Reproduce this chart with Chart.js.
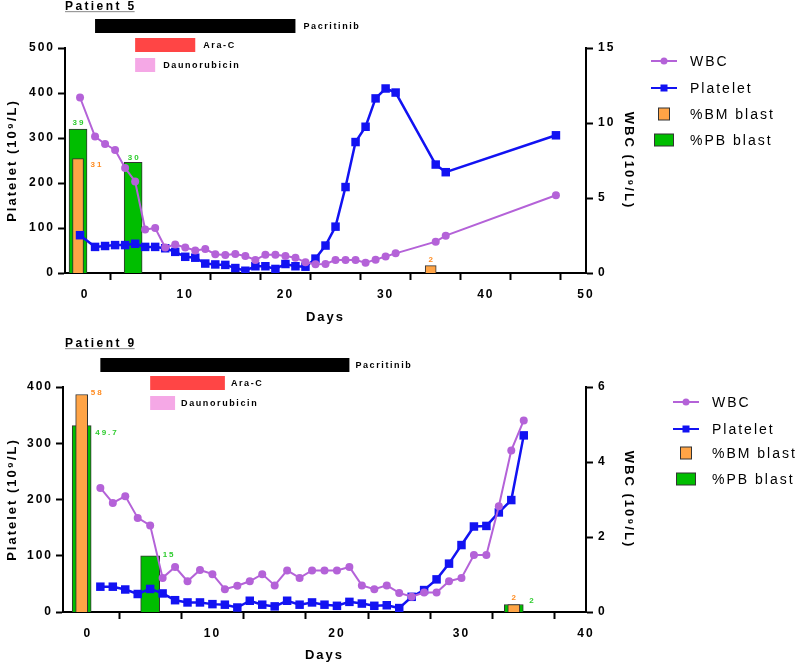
<!DOCTYPE html>
<html>
<head>
<meta charset="utf-8">
<script src="https://cdn.jsdelivr.net/npm/chart.js@4.4.0/dist/chart.umd.min.js"></script>
<style>
  body { margin: 0; background: #fff; }
  .panel { position: relative; width: 800px; }
</style>
</head>
<body>
<div class="panel" style="height:331px"><canvas id="p5"></canvas></div>
<div class="panel" style="height:332px"><canvas id="p9"></canvas></div>
<script>
// ---- Patient 5 ----
const p5Days = [-0.5, 1, 2, 3, 4, 5, 6, 7, 8, 9, 10, 11, 12, 13, 14, 15, 16, 17, 18, 19, 20,
  21, 22, 23, 24, 25, 26, 27, 28, 29, 30, 31, 35, 36, 47];
const p5Platelet = [84, 58, 60, 62, 62, 65, 58, 58, 55, 47, 36, 34, 21, 19, 18, 11, 5, 15, 15, 9, 20,
  15, 14, 32, 61, 103, 191, 291, 325, 388, 410, 401, 241, 224, 306];
const p5Wbc = [11.7, 9.1, 8.6, 8.2, 7.0, 6.1, 2.9, 3.0, 1.7, 1.9, 1.7, 1.5, 1.6, 1.25, 1.2, 1.27, 1.13, 0.87, 1.22, 1.22, 1.13,
  1.02, 0.71, 0.58, 0.6, 0.87, 0.87, 0.87, 0.69, 0.89, 1.1, 1.31, 2.09, 2.49, 5.18];
const p5BmDays = [-0.7, 34.5];
const p5BmBlast = [31, 2];
const p5PbDays = [-0.7, 4.8];
const p5PbBlast = [39, 30];
const p5Drugs = ['Pacritinib', 'Ara-C', 'Daunorubicin'];
const p5DrugStart = [1, 5, 5];
const p5DrugEnd = [21, 11, 7];

// ---- Patient 9 ----
const p9Days = [1, 2, 3, 4, 5, 6, 7, 8, 9, 10, 11, 12, 13, 14, 15, 16, 17, 18, 19, 20,
  21, 22, 23, 24, 25, 26, 27, 28, 29, 30, 31, 32, 33, 34, 35];
const p9Platelet = [45, 45, 40, 32, 41, 33, 21, 17, 17, 14, 13, 8, 20, 13, 10, 20, 13, 17, 13, 11,
  18, 15, 11, 12, 7, 27, 39, 58, 86, 119, 152, 153, 177, 199, 314];
const p9Wbc = [3.31, 2.91, 3.09, 2.51, 2.31, 0.91, 1.2, 0.82, 1.12, 1.01, 0.61, 0.7, 0.82, 1.01, 0.71, 1.11, 0.91, 1.11, 1.11, 1.11,
  1.2, 0.71, 0.61, 0.71, 0.51, 0.41, 0.52, 0.52, 0.82, 0.91, 1.52, 1.52, 2.82, 4.31, 5.11];
const p9BmDays = [-0.5, 34.2];
const p9BmBlast = [58, 2];
const p9PbDays = [-0.5, 5, 34.2];
const p9PbBlast = [49.7, 15, 2];
const p9Drugs = ['Pacritinib', 'Ara-C', 'Daunorubicin'];
const p9DrugStart = [1, 5, 5];
const p9DrugEnd = [21, 11, 7];

const seriesNames = ['WBC', 'Platelet', '%BM blast', '%PB blast'];

// colours
const PURPLE = '#B462D8';
const BLUE = '#1212F2';
const ORANGE = '#FFA446';
const GREEN = '#00BE00';
const ORANGE_TXT = '#FF8A1E';
const GREEN_TXT = '#2ECC2E';
const DRUG_COLORS = ['#000000', '#FF4545', '#F5A8E6'];
const FONT = '"Liberation Sans", Arial, sans-serif';

// where the % labels sit relative to each bar
const p5BmLabelPos = [{side: 'right', dx: 7, dy: 6}, {side: 'top', dx: 0, dy: -6}];
const p5PbLabelPos = [{side: 'top', dx: 0, dy: -6}, {side: 'top', dx: 0, dy: -5}];
const p9BmLabelPos = [{side: 'right', dx: 3, dy: -2}, {side: 'top', dx: 0, dy: -7}];
const p9PbLabelPos = [{side: 'right', dx: 4, dy: 7}, {side: 'right', dx: 3, dy: -1}, {side: 'right', dx: 6, dy: -4}];

function pts(xs, ys) {
  return xs.map((x, i) => ({x: x, y: ys[i]}));
}

function decor(p) {
  return {
    id: 'decor',
    beforeUpdate(chart) { chart.ctx.letterSpacing = '2px'; },
    beforeDraw(chart) { chart.ctx.letterSpacing = '2px'; },
    afterDraw(chart) {
      const ctx = chart.ctx;
      const xs = chart.scales.x;
      ctx.save();

      // panel title, underlined
      ctx.font = 'bold 12px ' + FONT;
      ctx.letterSpacing = '2.4px';
      ctx.fillStyle = '#000';
      ctx.textAlign = 'left';
      ctx.textBaseline = 'alphabetic';
      ctx.fillText(p.title, p.titleX, p.titleBase);
      const tw = ctx.measureText(p.title).width;
      ctx.fillStyle = '#9a9a9a';
      ctx.fillRect(p.titleX, p.titleBase + 1.5, tw - 2, 1.2);

      // treatment bars
      ctx.textBaseline = 'middle';
      ctx.font = 'bold 9px ' + FONT;
      ctx.letterSpacing = '1.6px';
      p.drugs.forEach((d, i) => {
        const x0 = xs.getPixelForValue(p.start[i]);
        const x1 = xs.getPixelForValue(p.end[i]);
        ctx.fillStyle = DRUG_COLORS[i];
        ctx.fillRect(x0, p.rowY[i], x1 - x0, 14);
        ctx.fillStyle = '#000';
        ctx.fillText(d, x1 + p.gap, p.rowY[i] + 8);
      });

      // value labels on blast bars
      ctx.font = 'bold 8px ' + FONT;
      ctx.letterSpacing = '2px';
      chart.data.datasets.forEach((ds, i) => {
        if (!ds.labelPos) return;
        const meta = chart.getDatasetMeta(i);
        meta.data.forEach((bar, j) => {
          const pos = ds.labelPos[j];
          const txt = String(ds.data[j].y);
          ctx.fillStyle = ds.labelColor;
          if (pos.side === 'top') {
            ctx.textAlign = 'center';
            ctx.fillText(txt, bar.x + pos.dx + 1, bar.y + pos.dy);
          } else {
            ctx.textAlign = 'left';
            ctx.fillText(txt, bar.x + bar.width / 2 + pos.dx, bar.y + pos.dy);
          }
        });
      });

      // legend
      const L = p.legend;
      ctx.textAlign = 'left';
      ctx.font = '14px ' + FONT;
      ctx.letterSpacing = '2px';
      chart.data.datasets.forEach((ds, i) => {
        const y = L.ys[i];
        if (ds.type === 'line') {
          ctx.strokeStyle = ds.borderColor;
          ctx.lineWidth = 2;
          ctx.beginPath();
          ctx.moveTo(L.cx - 13, y);
          ctx.lineTo(L.cx + 13, y);
          ctx.stroke();
          ctx.fillStyle = ds.borderColor;
          if (ds.pointStyle === 'rect') {
            ctx.fillRect(L.cx - 3.5, y - 3.5, 7, 7);
          } else {
            ctx.beginPath();
            ctx.arc(L.cx, y, 3.5, 0, Math.PI * 2);
            ctx.fill();
          }
        } else {
          const w = L.boxW[i];
          ctx.fillStyle = ds.backgroundColor;
          ctx.fillRect(L.cx - w / 2, y - 6, w, 12);
          ctx.strokeStyle = '#333';
          ctx.lineWidth = 1;
          ctx.strokeRect(L.cx - w / 2, y - 6, w, 12);
        }
        ctx.fillStyle = '#000';
        ctx.fillText(ds.label, L.textX, y + 1);
      });
      ctx.restore();
    }
  };
}

function makeChart(id, cfg) {
  const tickFont = {family: FONT, size: 12, weight: 'bold'};
  const titleFont = {family: FONT, size: 13, weight: 'bold'};
  const grid = {drawOnChartArea: false, drawTicks: true, tickLength: 7, tickWidth: 2, tickColor: '#000'};
  const border = {color: '#000', width: 2};
  return new Chart(document.getElementById(id), {
    type: 'line',
    data: {
      datasets: [
        {
          type: 'line', label: seriesNames[0], data: pts(cfg.days, cfg.wbc), yAxisID: 'y1',
          borderColor: PURPLE, backgroundColor: PURPLE, borderWidth: 2, pointStyle: 'circle',
          pointRadius: 4, pointBorderWidth: 0, tension: 0, order: 0
        },
        {
          type: 'line', label: seriesNames[1], data: pts(cfg.days, cfg.platelet), yAxisID: 'y',
          borderColor: BLUE, backgroundColor: BLUE, borderWidth: 2.5, pointStyle: 'rect',
          pointRadius: 6, pointBorderWidth: 0, tension: 0, order: 0
        },
        {
          type: 'bar', label: seriesNames[2], data: pts(cfg.bmDays, cfg.bm), yAxisID: 'yb',
          backgroundColor: ORANGE, borderColor: '#333', borderWidth: 1, grouped: false,
          barThickness: cfg.thinBar, order: 1, labelPos: cfg.bmPos, labelColor: ORANGE_TXT
        },
        {
          type: 'bar', label: seriesNames[3], data: pts(cfg.pbDays, cfg.pb), yAxisID: 'yb',
          backgroundColor: GREEN, borderColor: '#333', borderWidth: 1, grouped: false,
          barThickness: cfg.wideBar, order: 2, labelPos: cfg.pbPos, labelColor: GREEN_TXT
        }
      ]
    },
    options: {
      responsive: true,
      maintainAspectRatio: false,
      animation: false,
      devicePixelRatio: 1,
      layout: {padding: {top: cfg.padTop, left: 0, right: 159, bottom: cfg.padBottom}},
      plugins: {legend: {display: false}, tooltip: {enabled: false}},
      scales: {
        x: {
          type: 'linear', min: -2, max: cfg.xMax, offset: false, border: border, grid: grid,
          ticks: {
            stepSize: 5, includeBounds: false, autoSkip: false, maxRotation: 0, padding: 7,
            color: '#000', font: tickFont,
            callback: v => (v % 10 === 0 ? v : '')
          },
          title: {display: true, text: 'Days', color: '#000', font: titleFont, padding: 0},
          afterFit: s => { s.height = cfg.xHeight; }
        },
        y: {
          type: 'linear', position: 'left', min: 0, max: cfg.yMax, border: border, grid: grid,
          ticks: {stepSize: 100, padding: 3, color: '#000', font: tickFont},
          title: {display: true, text: 'Platelet (10⁹/L)', color: '#000', font: titleFont, padding: {top: 5, bottom: 5}},
          afterFit: s => { s.width = cfg.leftW; }
        },
        y1: {
          type: 'linear', position: 'right', min: 0, max: cfg.y1Max, border: border, grid: grid,
          ticks: {stepSize: cfg.y1Step, padding: 5, color: '#000', font: tickFont},
          title: {display: true, text: 'WBC (10⁹/L)', color: '#000', font: titleFont, padding: {top: 5, bottom: 5}},
          afterFit: s => { s.width = 55; }
        },
        yb: {type: 'linear', display: false, min: 0, max: cfg.ybMax}
      }
    },
    plugins: [decor(cfg.decor)]
  });
}

makeChart('p5', {
  days: p5Days, wbc: p5Wbc, platelet: p5Platelet,
  bmDays: p5BmDays, bm: p5BmBlast, pbDays: p5PbDays, pb: p5PbBlast,
  bmPos: p5BmLabelPos, pbPos: p5PbLabelPos,
  thinBar: 11, wideBar: 18,
  xMax: 50, yMax: 500, y1Max: 15, y1Step: 5, ybMax: 61,
  padTop: 48, padBottom: 6, xHeight: 52, leftW: 65,
  decor: {
    title: 'Patient 5', titleX: 65, titleBase: 9.5,
    drugs: p5Drugs, start: p5DrugStart, end: p5DrugEnd, rowY: [19, 38, 58], gap: 8,
    legend: {cx: 664, textX: 690, ys: [61, 88, 114, 140], boxW: [0, 0, 11, 19]}
  }
});

makeChart('p9', {
  days: p9Days, wbc: p9Wbc, platelet: p9Platelet,
  bmDays: p9BmDays, bm: p9BmBlast, pbDays: p9PbDays, pb: p9PbBlast,
  bmPos: p9BmLabelPos, pbPos: p9PbLabelPos,
  thinBar: 12, wideBar: 19,
  xMax: 40, yMax: 400, y1Max: 6, y1Step: 2, ybMax: 60,
  padTop: 56, padBottom: 0, xHeight: 51, leftW: 63,
  decor: {
    title: 'Patient 9', titleX: 65, titleBase: 15.5,
    drugs: p9Drugs, start: p9DrugStart, end: p9DrugEnd, rowY: [27, 45, 65], gap: 6,
    legend: {cx: 686, textX: 712, ys: [71, 98, 122, 148], boxW: [0, 0, 11, 19]}
  }
});
</script>
</body>
</html>
